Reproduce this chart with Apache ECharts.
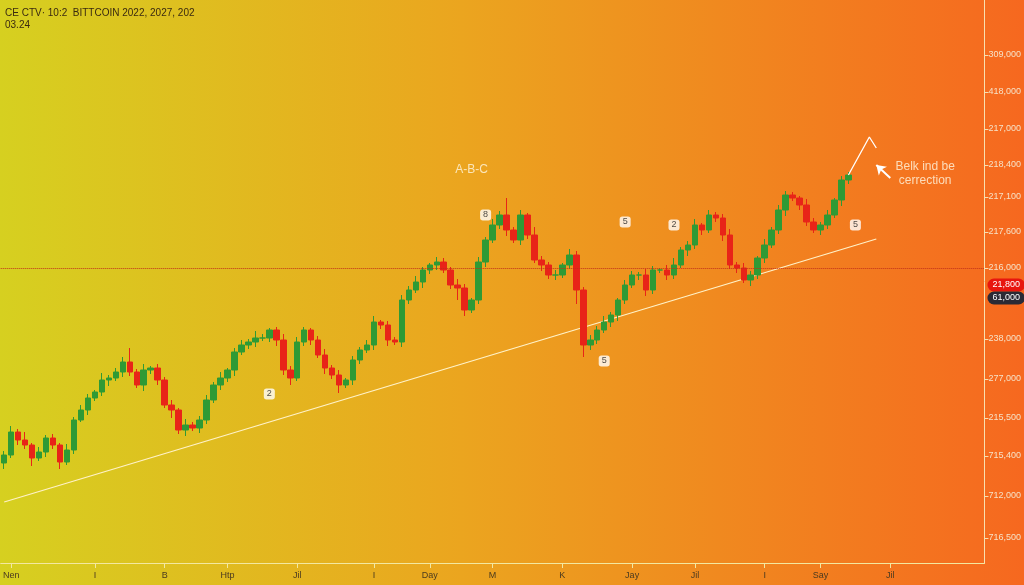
<!DOCTYPE html>
<html><head><meta charset="utf-8">
<script src="https://cdn.jsdelivr.net/npm/echarts@6/dist/echarts.min.js"></script>
<style>html,body{margin:0;padding:0;}#c{width:1024px;height:585px;}</style>
</head><body><div id="c"></div>
<script>
const closes=[108,131,123,118,105,111,125,118,101,113,143,153,165,171,183,185,191,201,191,178,193,195,183,158,153,133,138,135,143,163,178,185,193,211,218,221,225,225,233,223,193,185,221,233,223,208,195,188,178,183,203,213,218,241,238,223,221,263,273,281,293,298,301,293,278,275,253,263,301,323,338,348,333,323,348,328,303,298,288,288,298,308,273,218,223,233,241,248,263,278,288,288,273,293,293,288,298,313,318,338,333,348,345,328,298,295,283,288,305,318,333,353,368,365,358,341,333,338,348,363,383,388];
const firstOpen=100;
const upWick=[4,6,3,8,2,5,3,4,2,6,3,5,4,2,7,3,4,5,14,3,6,2,4,3,5,2,6,3,4,5,3,6,2,4,5,3,7,4,2,3,6,4,5,3,2,4,6,3,5,2,4,3,5,6,2,4,3,5,4,6,3,2,5,4,3,6,4,2,5,3,6,4,17,3,5,2,8,4,3,5,2,6,4,3,5,4,6,3,2,5,4,3,6,4,2,5,7,3,4,6,2,5,3,4,6,3,5,4,2,6,3,5,4,3,2,6,4,3,5,2,4,3];
const downWick=[6,3,5,4,8,3,5,4,7,3,4,2,5,3,4,6,3,5,4,3,6,4,5,3,8,4,6,3,5,4,3,5,4,6,3,4,5,3,4,6,5,7,3,4,5,3,6,4,8,3,5,4,3,5,4,6,3,5,4,3,6,4,5,3,4,12,6,3,4,5,3,4,6,3,5,4,3,6,4,5,3,4,14,12,5,4,3,5,6,4,3,5,6,4,3,5,4,3,6,4,5,3,4,6,4,5,3,6,4,5,3,4,6,3,5,4,3,5,4,3,6,4];
const xLabels={1:'Nen',13:'I',23:'B',32:'Htp',42:'Jil',53:'I',61:'Day',70:'M',80:'K',90:'Jay',99:'Jil',109:'I',117:'Say',127:'Jil'};
const nCats=141;
const yTickValues=[508,471,434,398,366,331,295,224,184,145,107,67,25];
const yTickLabels=['309,000','418,000','217,000','218,400','217,100','217,600','216,000','238,000','277,000','215,500','715,400','712,000','716,500'];
const refLevel=295, redTag=278, darkTag=265;
const redTagText='21,800', darkTagText='61,000';
const trend=[[0,61],[125,324]];
const waveMarks=[[69,348,'8'],[38,169,'2'],[89,341,'5'],[96,338,'2'],[86,202,'5'],[122,338,'5']];
const projection=[[121.4,388],[123.5,426],[124.5,415]];
const noteArrow=[[127,385],[125,398]];
const titleLines=['CE CTV· 10:2  BITTCOIN 2022, 2027, 202','03.24'];

const cats=[];for(let i=0;i<nCats;i++)cats.push(xLabels[i]||'');
const ohlc=[];let prev=firstOpen;
for(let i=0;i<closes.length;i++){const o=prev,c=closes[i];ohlc.push([o,c,Math.min(o,c)-downWick[i],Math.max(o,c)+upWick[i]]);prev=c;}

const tag=(v,t,bg)=>({yAxis:v,lineStyle:{width:0,color:'rgba(0,0,0,0)'},label:{show:true,position:'end',distance:3,formatter:t,backgroundColor:bg,color:'#fff',fontSize:9,padding:[2,5],borderRadius:7}});

const chart=echarts.init(document.getElementById('c'));
chart.setOption({
 animation:false,
 backgroundColor:new echarts.graphic.LinearGradient(0,0,1,0,[{offset:0,color:'#d6d020'},{offset:0.45,color:'#eba51f'},{offset:1,color:'#f6681f'}]),
 title:{text:titleLines.join('\n'),left:0,top:2,textStyle:{fontSize:10,fontWeight:'normal',color:'#3a2a10',lineHeight:12,fontFamily:'Liberation Sans'}},
 grid:{left:0,right:32,top:0,bottom:22},
 xAxis:{type:'category',data:cats,boundaryGap:true,
  axisLine:{lineStyle:{color:'#f3e8a0',width:1}},
  axisTick:{show:true,alignWithLabel:true,interval:(i,v)=>v!=='',lineStyle:{color:'#f3e8a0'}},
  axisLabel:{interval:0,color:'#4a3a20',fontSize:9,margin:8,formatter:v=>v},
  splitLine:{show:false}},
 yAxis:{type:'value',position:'right',min:0,max:563,
  axisLine:{show:true,lineStyle:{color:'#f8e0b0'}},
  axisTick:{show:true,customValues:yTickValues,lineStyle:{color:'#f8e0b0'},length:4},
  axisLabel:{customValues:yTickValues,formatter:v=>yTickLabels[yTickValues.indexOf(v)],color:'#f6e2c8',fontSize:9,margin:4},
  splitLine:{show:false}},
 series:[
  {type:'candlestick',data:ohlc,barWidth:6,
   itemStyle:{color:'#2f9a35',color0:'#e82418',borderColor:'#2f9a35',borderColor0:'#e82418'},
   markLine:{silent:true,symbol:'none',data:[
     {yAxis:refLevel,lineStyle:{color:'#c0301a',type:'dotted',width:1},label:{show:false}},
     tag(redTag,redTagText,'#e8160e'),
     tag(darkTag,darkTagText,'#2a2a35')
   ]}},
  {type:'line',data:trend,symbol:'none',lineStyle:{color:'#fff2c8',width:1.2},z:1},
  {type:'line',data:projection,symbol:'none',lineStyle:{color:'#fff',width:1.3},
   markLine:{silent:true,symbol:['none','arrow'],symbolSize:9,lineStyle:{color:'#fff',type:'solid',width:2},label:{show:false},
    data:[[{coord:noteArrow[0]},{coord:noteArrow[1]}]]}},
  {type:'scatter',data:waveMarks,symbol:'roundRect',symbolSize:[11,11],itemStyle:{color:'#fff'},
   label:{show:true,position:'inside',formatter:p=>p.data[2],color:'#222',fontSize:9}},
  {type:'scatter',data:[[66.5,393,'A-B-C'],[131.5,389,'Belk ind be\ncerrection']],symbolSize:0,
   label:{show:true,position:'inside',formatter:p=>p.data[2],color:'#fff6e0',fontSize:12,lineHeight:14}}
 ]
});
</script></body></html>
